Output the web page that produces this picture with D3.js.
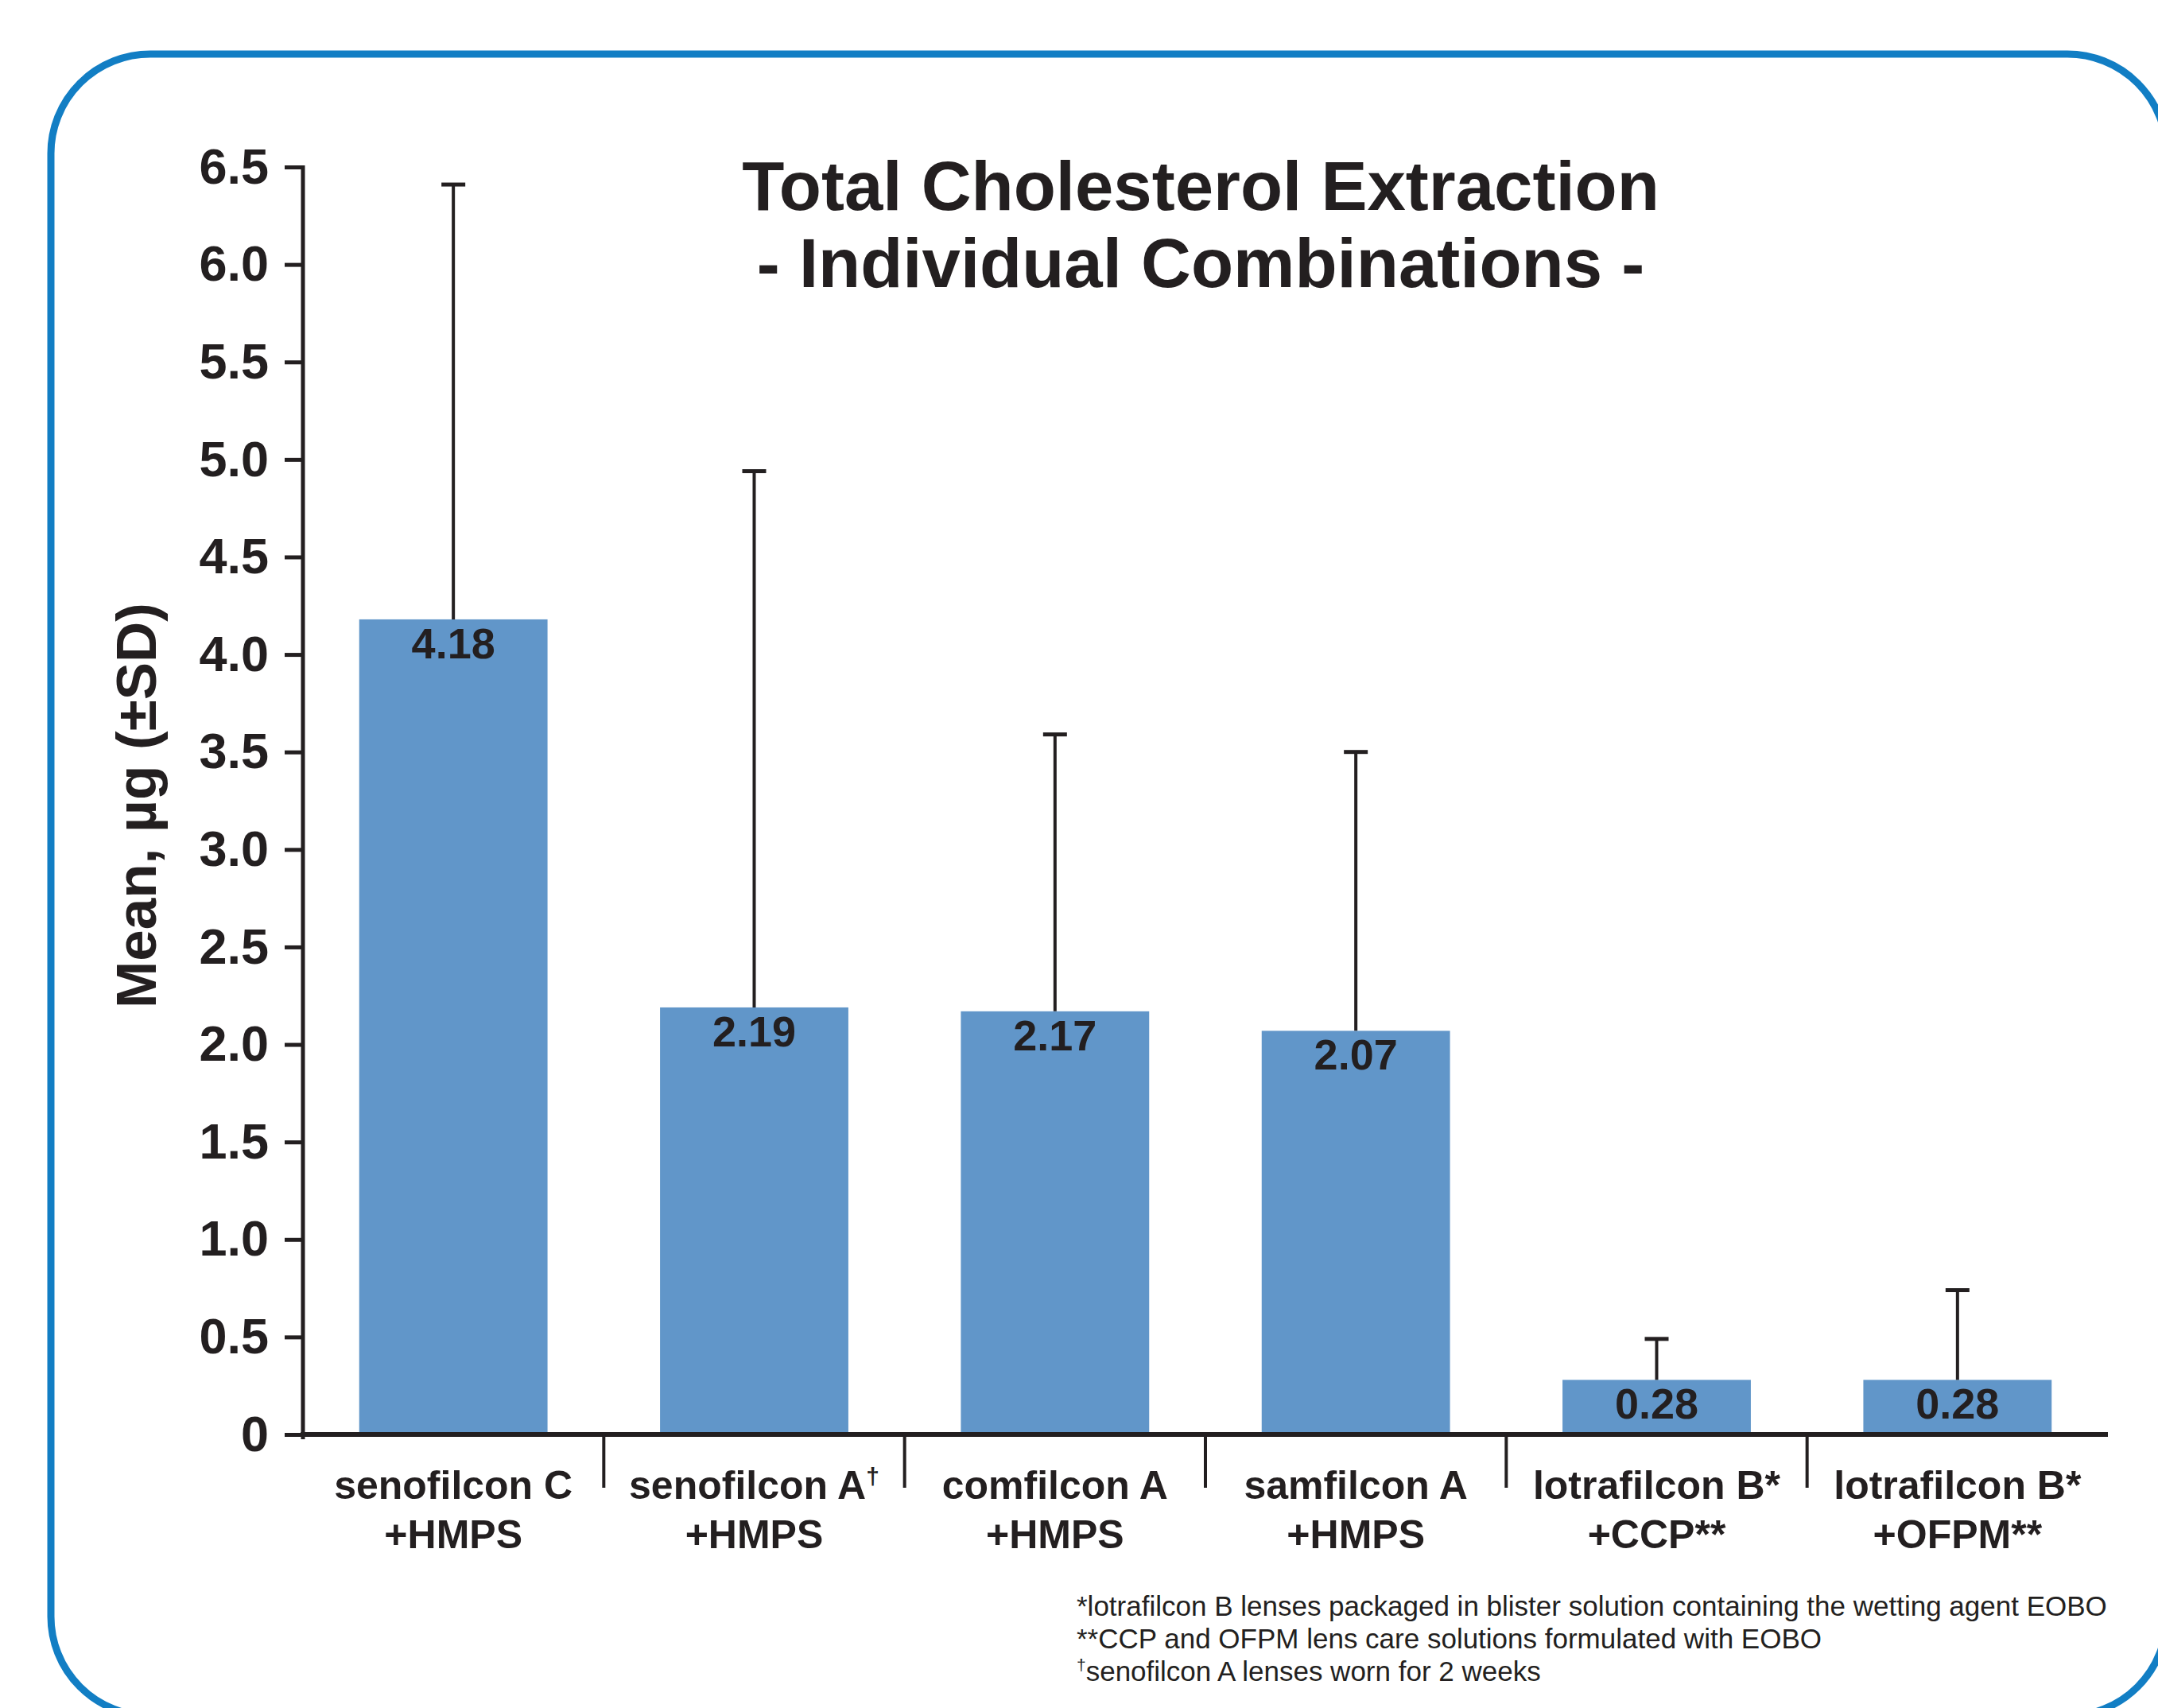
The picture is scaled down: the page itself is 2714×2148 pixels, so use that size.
<!DOCTYPE html>
<html>
<head>
<meta charset="utf-8">
<script src="https://cdn.jsdelivr.net/npm/d3@7"></script>
<style>
  html, body { margin: 0; padding: 0; background: #ffffff; }
  svg { display: block; }
</style>
</head>
<body>
<script>
// ---- data ----
const categories = ["senofilcon C", "senofilcon A", "comfilcon A", "samfilcon A", "lotrafilcon B", "lotrafilcon B "];
const catLine1 = ["senofilcon C", "senofilcon A", "comfilcon A", "samfilcon A", "lotrafilcon B*", "lotrafilcon B*"];
const catSup = ["", "\u2020", "", "", "", ""];
const catLine2 = ["+HMPS", "+HMPS", "+HMPS", "+HMPS", "+CCP**", "+OFPM**"];
const means = [4.18, 2.19, 2.17, 2.07, 0.28, 0.28];
const sds = [2.23, 2.75, 1.42, 1.43, 0.21, 0.46];
const yTicks = [0, 0.5, 1.0, 1.5, 2.0, 2.5, 3.0, 3.5, 4.0, 4.5, 5.0, 5.5, 6.0, 6.5];
const titleLines = ["Total Cholesterol Extraction", "- Individual Combinations -"];
const yTitle = "Mean, \u00b5g (\u00b1SD)";
const footnotes = [
  {mark: "*", text: "lotrafilcon B lenses packaged in blister solution containing the wetting agent EOBO"},
  {mark: "**", text: "CCP and OFPM lens care solutions formulated with EOBO"},
  {mark: "\u2020", text: "senofilcon A lenses worn for 2 weeks"}
];

// ---- layout ----
const W = 2714, H = 2148;
const ink = "#231f20";
const barColor = "#6196c9";
const frameColor = "#127ec4";
const font = "'Liberation Sans', Arial, Helvetica, sans-serif";

const svg = d3.select("body").append("svg")
  .attr("width", W).attr("height", H)
  .style("font-family", font);

// frame
svg.append("rect")
  .attr("x", 64).attr("y", 68)
  .attr("width", 2661).attr("height", 2090)
  .attr("rx", 125).attr("ry", 125)
  .attr("fill", "none")
  .attr("stroke", frameColor)
  .attr("stroke-width", 9);

const x = d3.scaleBand().domain(categories).range([381, 2651]).paddingInner(0).paddingOuter(0);
const y = d3.scaleLinear().domain([0, 6.5]).range([1804, 210]);
const barW = x.bandwidth() * 0.626;

// bars
svg.append("g").selectAll("rect").data(means).join("rect")
  .attr("x", (d, i) => x(categories[i]) + x.bandwidth() / 2 - barW / 2)
  .attr("y", d => y(d))
  .attr("width", barW)
  .attr("height", d => y(0) - y(d))
  .attr("fill", barColor);

// error bars
const eg = svg.append("g").attr("stroke", ink);
means.forEach((m, i) => {
  const cx = x(categories[i]) + x.bandwidth() / 2;
  eg.append("line").attr("x1", cx).attr("x2", cx)
    .attr("y1", y(m)).attr("y2", y(m + sds[i]))
    .attr("stroke-width", 4);
  eg.append("line").attr("x1", cx - 15).attr("x2", cx + 15)
    .attr("y1", y(m + sds[i])).attr("y2", y(m + sds[i]))
    .attr("stroke-width", 5);
});

// value labels
svg.append("g").selectAll("text").data(means).join("text")
  .attr("x", (d, i) => x(categories[i]) + x.bandwidth() / 2)
  .attr("y", d => y(d) + 49)
  .attr("text-anchor", "middle")
  .attr("font-size", 54)
  .attr("font-weight", "bold")
  .attr("fill", ink)
  .text(d => d3.format(".2f")(d));

// y axis
const yAxis = d3.axisLeft(y)
  .tickValues(yTicks)
  .tickSize(23)
  .tickSizeOuter(0)
  .tickPadding(20)
  .tickFormat(d => d === 0 ? "0" : d3.format(".1f")(d));
const ya = svg.append("g").attr("transform", "translate(381,0)").call(yAxis);
ya.select(".domain").attr("stroke", ink).attr("stroke-width", 5)
  .attr("d", `M0,${y(6.5) - 2}V${y(0) + 6}`);
ya.selectAll(".tick line").attr("stroke", ink).attr("stroke-width", 5);
ya.selectAll(".tick text")
  .attr("fill", ink)
  .attr("font-size", 63)
  .attr("font-weight", "bold")
  .attr("font-family", font);

// x baseline
svg.append("line")
  .attr("x1", 378).attr("x2", x.range()[1])
  .attr("y1", y(0)).attr("y2", y(0))
  .attr("stroke", ink).attr("stroke-width", 6);

// category dividers
svg.append("g").selectAll("line").data(categories.slice(1)).join("line")
  .attr("x1", d => x(d)).attr("x2", d => x(d))
  .attr("y1", y(0)).attr("y2", y(0) + 67)
  .attr("stroke", ink).attr("stroke-width", 4);

// category labels
const cl = svg.append("g").attr("font-weight", "bold").attr("font-size", 50).attr("fill", ink).attr("text-anchor", "middle");
categories.forEach((c, i) => {
  const cx = x(c) + x.bandwidth() / 2;
  const t1 = cl.append("text").attr("x", cx).attr("y", 1885);
  t1.append("tspan").text(catLine1[i]);
  if (catSup[i]) t1.append("tspan").attr("font-size", 30).attr("dy", -18).text(catSup[i]);
  cl.append("text").attr("x", cx).attr("y", 1947).text(catLine2[i]);
});

// title
svg.append("g").selectAll("text").data(titleLines).join("text")
  .attr("x", 1510)
  .attr("y", (d, i) => 264 + i * 97)
  .attr("text-anchor", "middle")
  .attr("font-size", 87)
  .attr("font-weight", "bold")
  .attr("fill", ink)
  .text(d => d);

// y axis title
svg.append("text")
  .attr("transform", "translate(196,1013) rotate(-90)")
  .attr("text-anchor", "middle")
  .attr("font-size", 71)
  .attr("font-weight", "bold")
  .attr("fill", ink)
  .text(yTitle);

// footnotes
const fn = svg.append("g").attr("font-size", 35).attr("fill", ink);
footnotes.forEach((f, i) => {
  const t = fn.append("text").attr("x", 1354).attr("y", 2032 + i * 41);
  if (f.mark === "\u2020") {
    t.append("tspan").attr("font-size", 21).attr("dy", -13).text(f.mark);
    t.append("tspan").attr("dy", 13).text(f.text);
  } else {
    t.append("tspan").text(f.mark + f.text);
  }
});
</script>
</body>
</html>
